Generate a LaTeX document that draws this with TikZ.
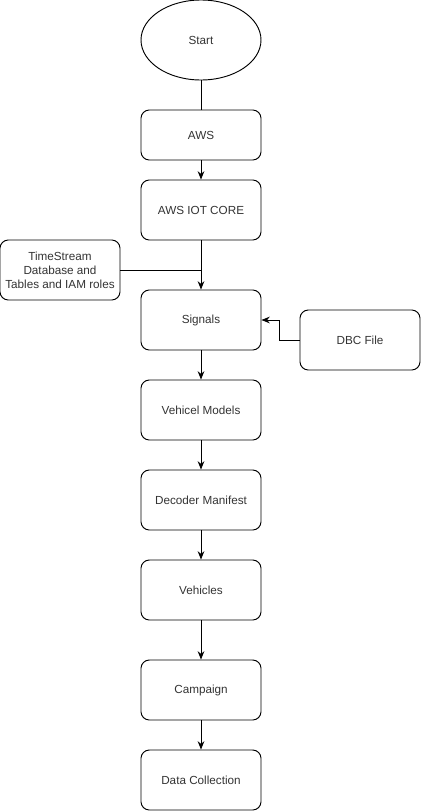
\documentclass[tikz,border=0pt]{standalone}
\usepackage{fontspec}
\setmainfont{Liberation Sans}
\usetikzlibrary{shapes.geometric,arrows.meta}

\begin{document}
\begin{tikzpicture}[x=0.03cm, y=-0.03cm, line width=0.8pt,
    every node/.style={font=\fontsize{10}{12}\selectfont, text=black!80},
    box/.style={draw, rounded corners=0.25cm, minimum width=3.6cm, minimum height=1.8cm, inner sep=1pt, align=center},
    arrow/.style={-{Stealth[length=0.25cm, width=0.2cm]}}]
    \useasboundingbox (0,0) rectangle (421,811);
    % Inicio
    \node[draw, ellipse, minimum width=3.6cm, minimum height=2.4cm, inner sep=0pt] (start) at (201,40) {Start};
    \node[box, minimum height=1.5cm] (aws) at (201,135) {AWS};
    % Cadena principal
    \foreach \name/\y/\txt in {iot/210/AWS IOT CORE, signals/320/Signals, models/410/Vehicel Models,
        manifest/500/Decoder Manifest, vehicles/590/Vehicles, campaign/690/Campaign, collect/780/Data Collection} {
        \node[box] (\name) at (201,\y) {\txt};
    }
    % Entradas laterales
    \node[box] (ts) at (60,270) {TimeStream\\Database and\\Tables and IAM roles};
    \node[box] (dbc) at (360,340) {DBC File};
    % Conexiones
    \draw (start) -- (aws);
    \foreach \a/\b in {aws/iot, iot/signals, signals/models, models/manifest, manifest/vehicles, vehicles/campaign, campaign/collect} {
        \draw[arrow] (\a) -- (\b);
    }
    \draw (ts.east) -- (ts.east -| iot.south);
    \draw[arrow] (dbc.west) -- ++(-20,0) |- (signals.east);
\end{tikzpicture}
\end{document}
